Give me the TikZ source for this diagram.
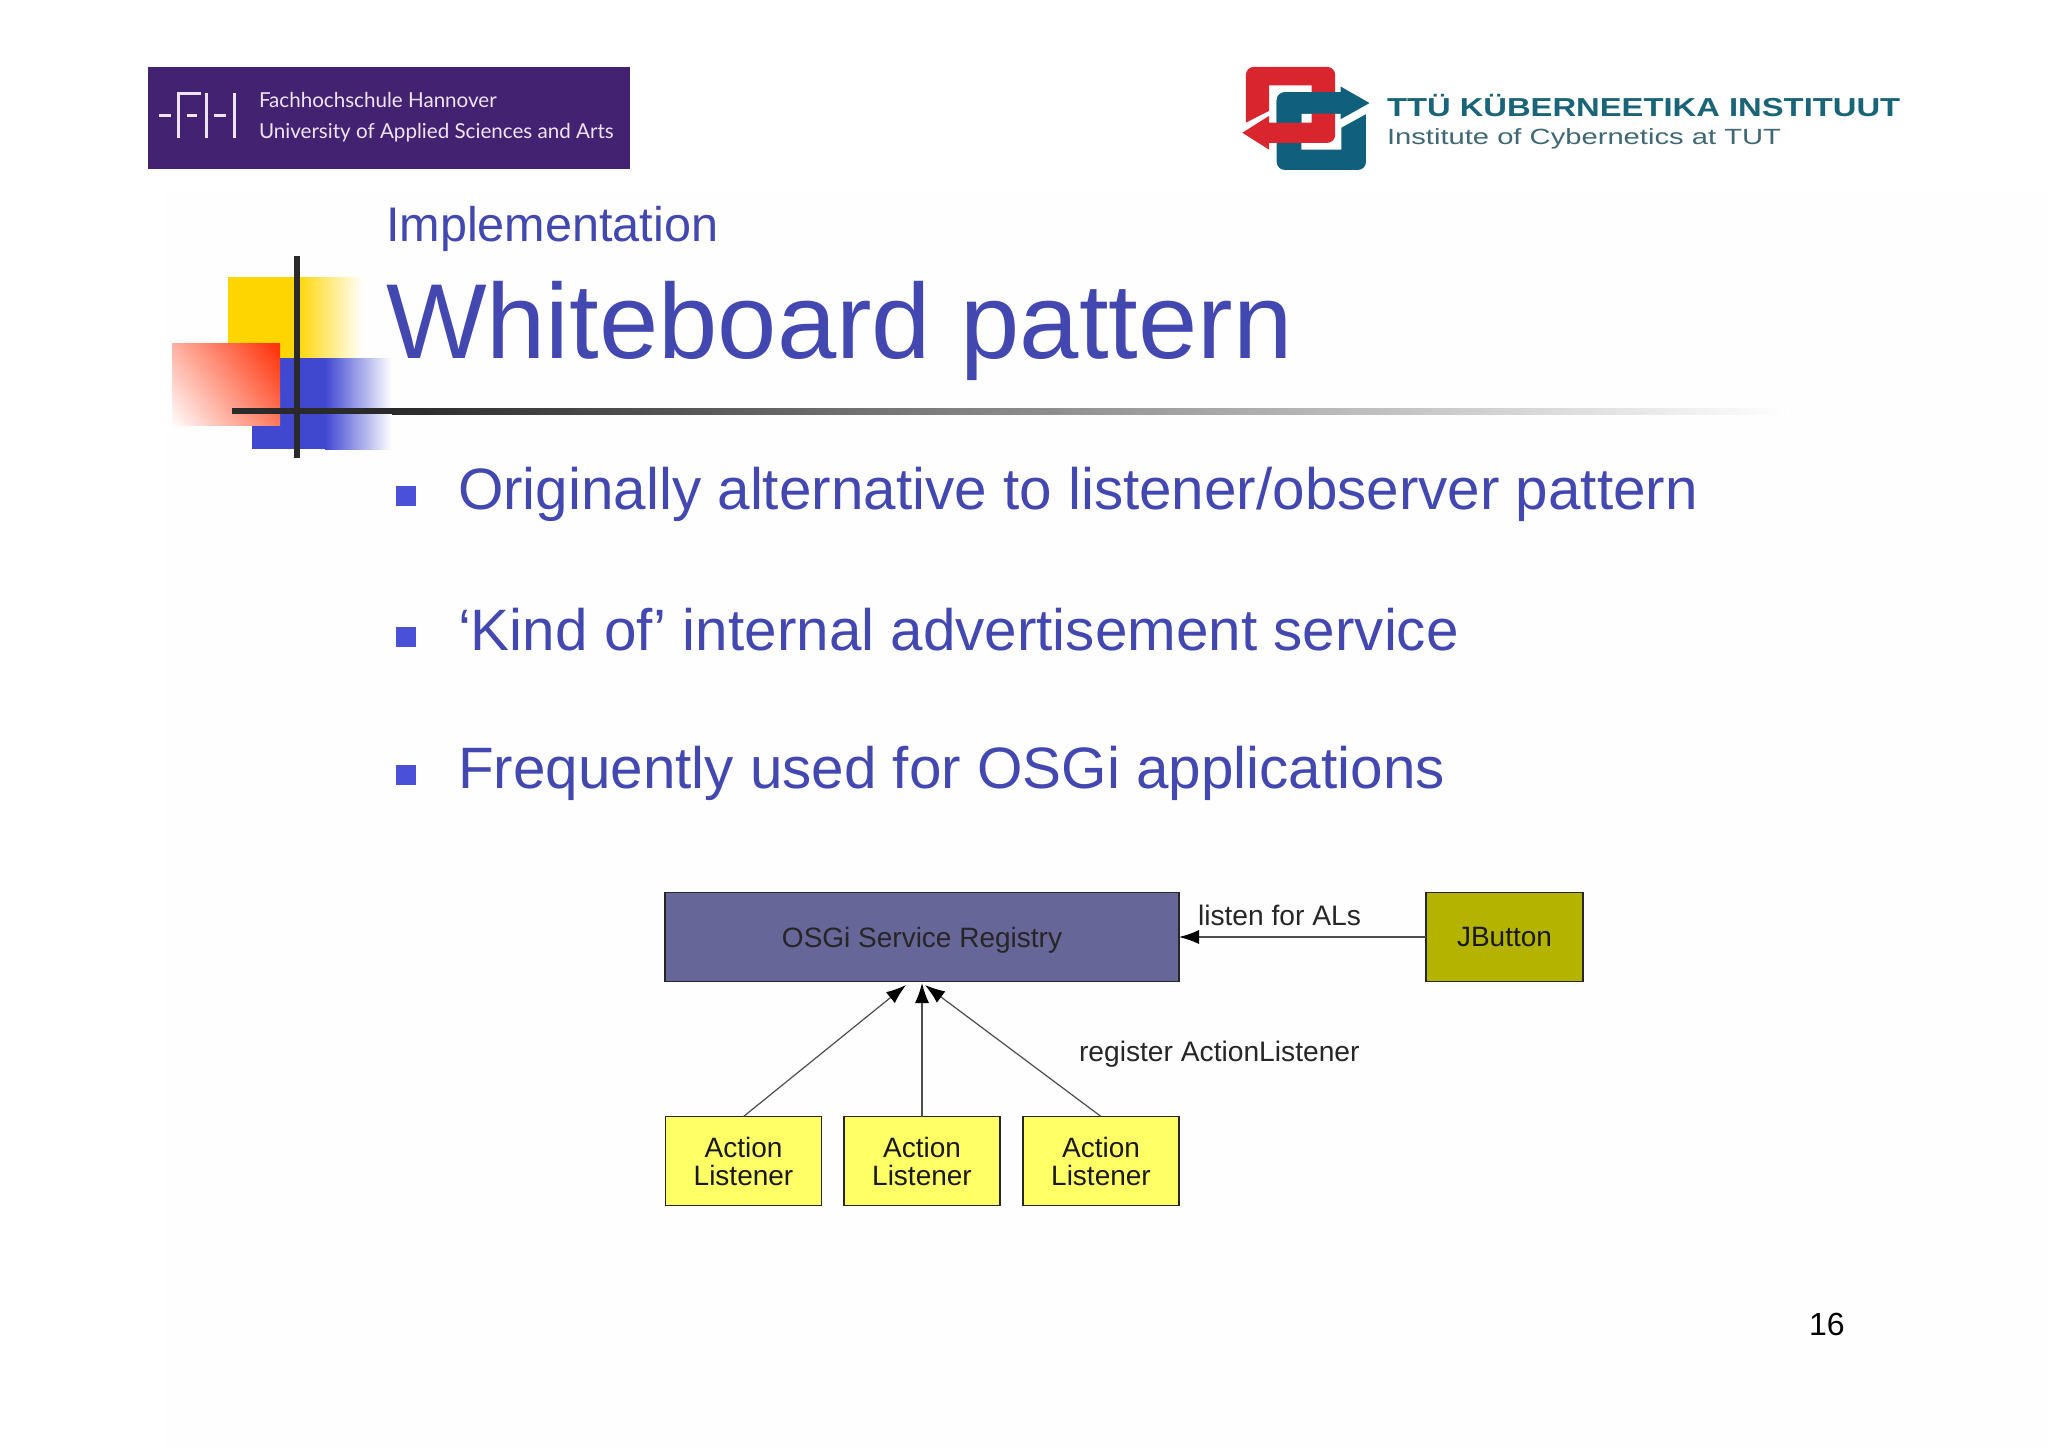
\documentclass[tikz,border=0pt]{standalone}
\usepackage{fontspec}
\usepackage{graphicx}
\setmainfont{Liberation Sans}
\newfontfamily\fhfont{Lato}
\usetikzlibrary{arrows.meta}
\definecolor{slideblue}{HTML}{4248B0}
\definecolor{bulletblue}{HTML}{4A50D8}
\definecolor{fhpurple}{HTML}{432272}
\definecolor{fhtext}{HTML}{F0E4F4}
\definecolor{ttured}{HTML}{D9252E}
\definecolor{ttublue}{HTML}{0F5F7D}
\definecolor{ttutext}{HTML}{1A6478}
\definecolor{ttugrey}{HTML}{3F6874}
\definecolor{decoyellow}{HTML}{FFD500}
\definecolor{decoblue}{HTML}{4048D0}
\definecolor{decored}{HTML}{FF2A00}
\definecolor{barblack}{HTML}{2A2A2A}
\definecolor{regfill}{HTML}{666699}
\definecolor{jbfill}{HTML}{B3B300}
\definecolor{alfill}{HTML}{FFFF66}
\definecolor{pagetint}{HTML}{FEFEFE}
\pgfdeclarehorizontalshading{redfade}{100bp}{color(0bp)=(white);color(14bp)=(white);color(86bp)=(decored);color(100bp)=(decored)}
\tikzset{
  every node/.style={inner sep=0pt,outer sep=0pt},
  slidetext/.style={anchor=base west,text=slideblue},
  bullettext/.style={slidetext,font=\fontsize{29.2}{36}\selectfont},
  bulletmark/.style={fill=bulletblue,minimum width=10pt,minimum height=10pt},
  diagbox/.style={draw=black!85,line width=0.6pt,align=center,text=black!90,
    font=\fontsize{14}{14}\selectfont,minimum height=44.5pt},
  regbox/.style={diagbox,fill=regfill,minimum width=257pt,text=black!85,text depth=0pt},
  jbbox/.style={diagbox,fill=jbfill,minimum width=78.5pt},
  albox/.style={diagbox,fill=alfill,minimum width=78pt},
  arr/.style={draw=black!70,line width=0.6pt,-{Latex[length=10pt,width=7pt,color=black]}},
  difflabel/.style={anchor=base west,text=black!85,font=\fontsize{14.1}{14}\selectfont},
  fhline/.style={draw=fhtext,line width=1.5pt},
}
\begin{document}
\begin{tikzpicture}[x=0.5pt,y=-0.5pt]
\useasboundingbox (0,0) rectangle (2048,1447);
\fill[white] (0,0) rectangle (2048,1447);
\fill[pagetint] (165,190) rectangle (2048,1447);

% FH logo
\fill[fhpurple] (148,67) rectangle (630,169);
\draw[fhline] (159,115) -- (171,115);
\draw[fhline] (178,138) -- (178,93) -- (201,93);
\draw[fhline] (187,115) -- (197,115);
\draw[fhline] (206,93) -- (206,138);
\draw[fhline] (214,115) -- (226,115);
\draw[fhline] (234,93) -- (234,138);
\node[anchor=base west,text=fhtext,font=\fhfont\fontsize{10.3}{12}\selectfont] (fh1) at (259,107.5) {Fachhochschule Hannover};
\node[anchor=base west,text=fhtext,font=\fhfont\fontsize{10.3}{12}\selectfont] (fh2) at (259,138.5) {University of Applied Sciences and Arts};

% TTU logo
\begin{scope}[shift={(1220,50)},x=0.2232pt,y=-0.1689pt]
\fill[ttublue] (335,157) -- (270,108) -- (270,125) [rounded corners=4pt] -- (127,125) -- (127,355) -- (327,355) [sharp corners] -- (327,190) -- (272,230) -- (272,295) -- (182,295) -- (182,188) -- (270,188) -- (270,205) -- cycle;
\fill[ttured] (50,245) -- (110,295) -- (110,275) [rounded corners=4pt] -- (258,275) -- (258,50) -- (58,50) [sharp corners] -- (58,215) -- (110,180) -- (110,105) -- (205,105) -- (205,215) -- (110,215) -- (110,195) -- cycle;
\fill[ttublue] (270,125) [rounded corners=4pt] -- (127,125) [sharp corners] -- (127,215) -- (182,215) -- (182,188) -- (270,188) -- cycle;
\end{scope}
\node[anchor=base west,text=ttutext] (ttu1) at (1387,116) {\scalebox{1.26}[1]{\fontsize{13}{15}\selectfont\bfseries TTÜ KÜBERNEETIKA INSTITUUT}};
\node[anchor=base west,text=ttugrey] (ttu2) at (1387,144) {\scalebox{1.326}[1]{\fontsize{11}{13}\selectfont Institute of Cybernetics at TUT}};

% decoration
\fill[decoyellow] (228,277) rectangle (296,358);
\shade[left color=decoyellow,right color=white,draw=none] (296,277) rectangle (363,358);
\fill[decoblue] (252,358) rectangle (325,449);
\shade[left color=decoblue,right color=white,draw=none] (325,358) rectangle (392,449);
\shade[shading=redfade,shading angle=37] (172,343) rectangle (280,425);
\fill[barblack] (232,408) rectangle (392,414);
\shade[left color=barblack,right color=white,draw=none] (392,408) rectangle (1790,414);
\fill[barblack] (294,256) rectangle (300,458);

% titles
\node[slidetext,font=\fontsize{24.3}{28}\selectfont] (sub) at (386,241) {Implementation};
\node[slidetext,font=\fontsize{53.3}{60}\selectfont] (title) at (386,358) {Whiteboard pattern};

% bullets
\node[bulletmark] (b1) at (406,496) {};
\node[bulletmark] (b2) at (406,637) {};
\node[bulletmark] (b3) at (406,775) {};
\node[bullettext] (t1) at (458,509) {Originally alternative to listener/observer pattern};
\node[bullettext] (t2) at (458,650) {‘Kind of’ internal advertisement service};
\node[bullettext] (t3) at (458,788.5) {Frequently used for OSGi applications};

% diagram
\node[regbox] (osgi) at (922,937) {OSGi Service Registry};
\node[jbbox] (jb) at (1504.5,937) {JButton};
\node[albox] (a1) at (743.5,1161) {Action\\Listener};
\node[albox] (a2) at (922,1161) {Action\\Listener};
\node[albox] (a3) at (1101,1161) {Action\\Listener};
\coordinate (tipl) at (906,985);
\coordinate (tipr) at (925,985);
\coordinate (tipm) at (922,983);
\draw[arr] (jb.west) -- (osgi.east);
\draw[arr] (a1.north) -- (tipl);
\draw[arr] (a2.north) -- (tipm);
\draw[arr] (a3.north) -- (tipr);
\node[difflabel] (l1) at (1198,925) {listen for ALs};
\node[difflabel] (l2) at (1079,1061) {register ActionListener};

\node[anchor=base west,text=black,font=\fontsize{16}{18}\selectfont] (pg) at (1809,1335) {16};
\end{tikzpicture}
\end{document}
